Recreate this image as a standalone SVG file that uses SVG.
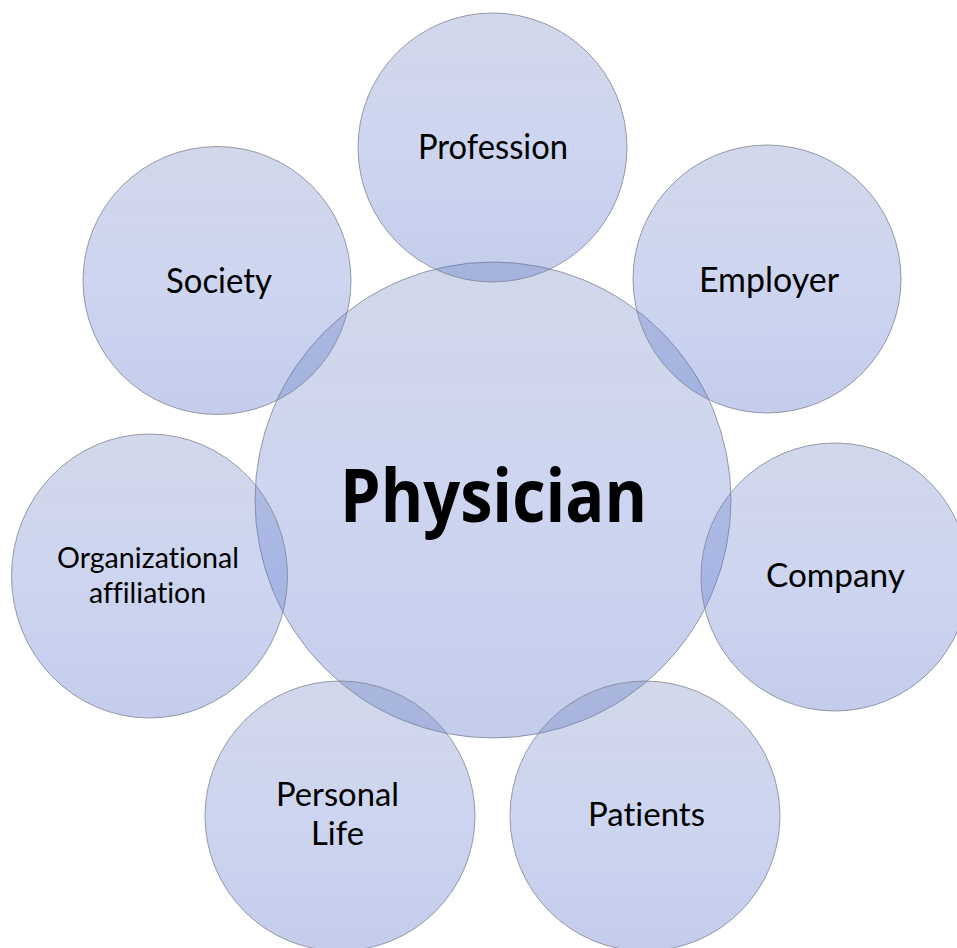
<svg xmlns="http://www.w3.org/2000/svg" width="957" height="948" viewBox="0 0 957 948">
  <defs>
    <linearGradient id="fillGrad" x1="0" y1="0" x2="0" y2="1">
      <stop offset="0" stop-color="rgb(105,125,185)" stop-opacity="0.3"/>
      <stop offset="0.5" stop-color="rgb(88,115,205)" stop-opacity="0.3"/>
      <stop offset="1" stop-color="rgb(68,99,192)" stop-opacity="0.32"/>
    </linearGradient>
    <style>
      .bubble { fill: url(#fillGrad); stroke: #7f8595; stroke-width: 1; stroke-opacity: 0.8; }
      .lbl { font-family: Lato, "Noto Sans", "DejaVu Sans", sans-serif; fill: #000; text-anchor: middle; font-variant-ligatures: none; font-feature-settings: "liga" 0, "clig" 0, "dlig" 0; }
      .big { font-family: "Open Sans", "Noto Sans", "DejaVu Sans", sans-serif; font-weight: bold; fill: #000; text-anchor: middle; }
    </style>
  </defs>
  <rect width="957" height="948" fill="#ffffff"/>
  <g id="connectors"></g>
  <g id="physician">
    <circle class="bubble" cx="493" cy="500" r="238"/>
    <text class="big" x="493.5" y="522" font-size="74" textLength="307" lengthAdjust="spacingAndGlyphs">Physician</text>
  </g>
  <g id="profession">
    <circle class="bubble" cx="492.5" cy="147.5" r="134.5"/>
    <text class="lbl" x="493" y="159" font-size="35" textLength="150" lengthAdjust="spacingAndGlyphs">Profession</text>
  </g>
  <g id="society">
    <circle class="bubble" cx="217" cy="280.5" r="134"/>
    <text class="lbl" x="219" y="293" font-size="35" textLength="106" lengthAdjust="spacingAndGlyphs">Society</text>
  </g>
  <g id="employer">
    <circle class="bubble" cx="767" cy="279" r="134"/>
    <text class="lbl" x="769" y="292" font-size="35" textLength="140" lengthAdjust="spacingAndGlyphs">Employer</text>
  </g>
  <g id="organizational-affiliation">
    <ellipse class="bubble" cx="149.5" cy="576" rx="138" ry="142"/>
    <text class="lbl" x="148" y="568" font-size="28" textLength="182" lengthAdjust="spacingAndGlyphs">Organizational</text>
    <text class="lbl" x="147.5" y="603" font-size="28" textLength="117" lengthAdjust="spacingAndGlyphs">affiliation</text>
  </g>
  <g id="company">
    <circle class="bubble" cx="835" cy="577" r="134"/>
    <text class="lbl" x="835.5" y="587" font-size="33" textLength="139" lengthAdjust="spacingAndGlyphs">Company</text>
  </g>
  <g id="personal-life">
    <circle class="bubble" cx="340" cy="816" r="135"/>
    <text class="lbl" x="337.5" y="806" font-size="32" textLength="123" lengthAdjust="spacingAndGlyphs">Personal</text>
    <text class="lbl" x="337.5" y="845" font-size="32" textLength="53" lengthAdjust="spacingAndGlyphs">Life</text>
  </g>
  <g id="patients">
    <circle class="bubble" cx="645" cy="816" r="135"/>
    <text class="lbl" x="646.5" y="826" font-size="33" textLength="117" lengthAdjust="spacingAndGlyphs">Patients</text>
  </g>
</svg>
